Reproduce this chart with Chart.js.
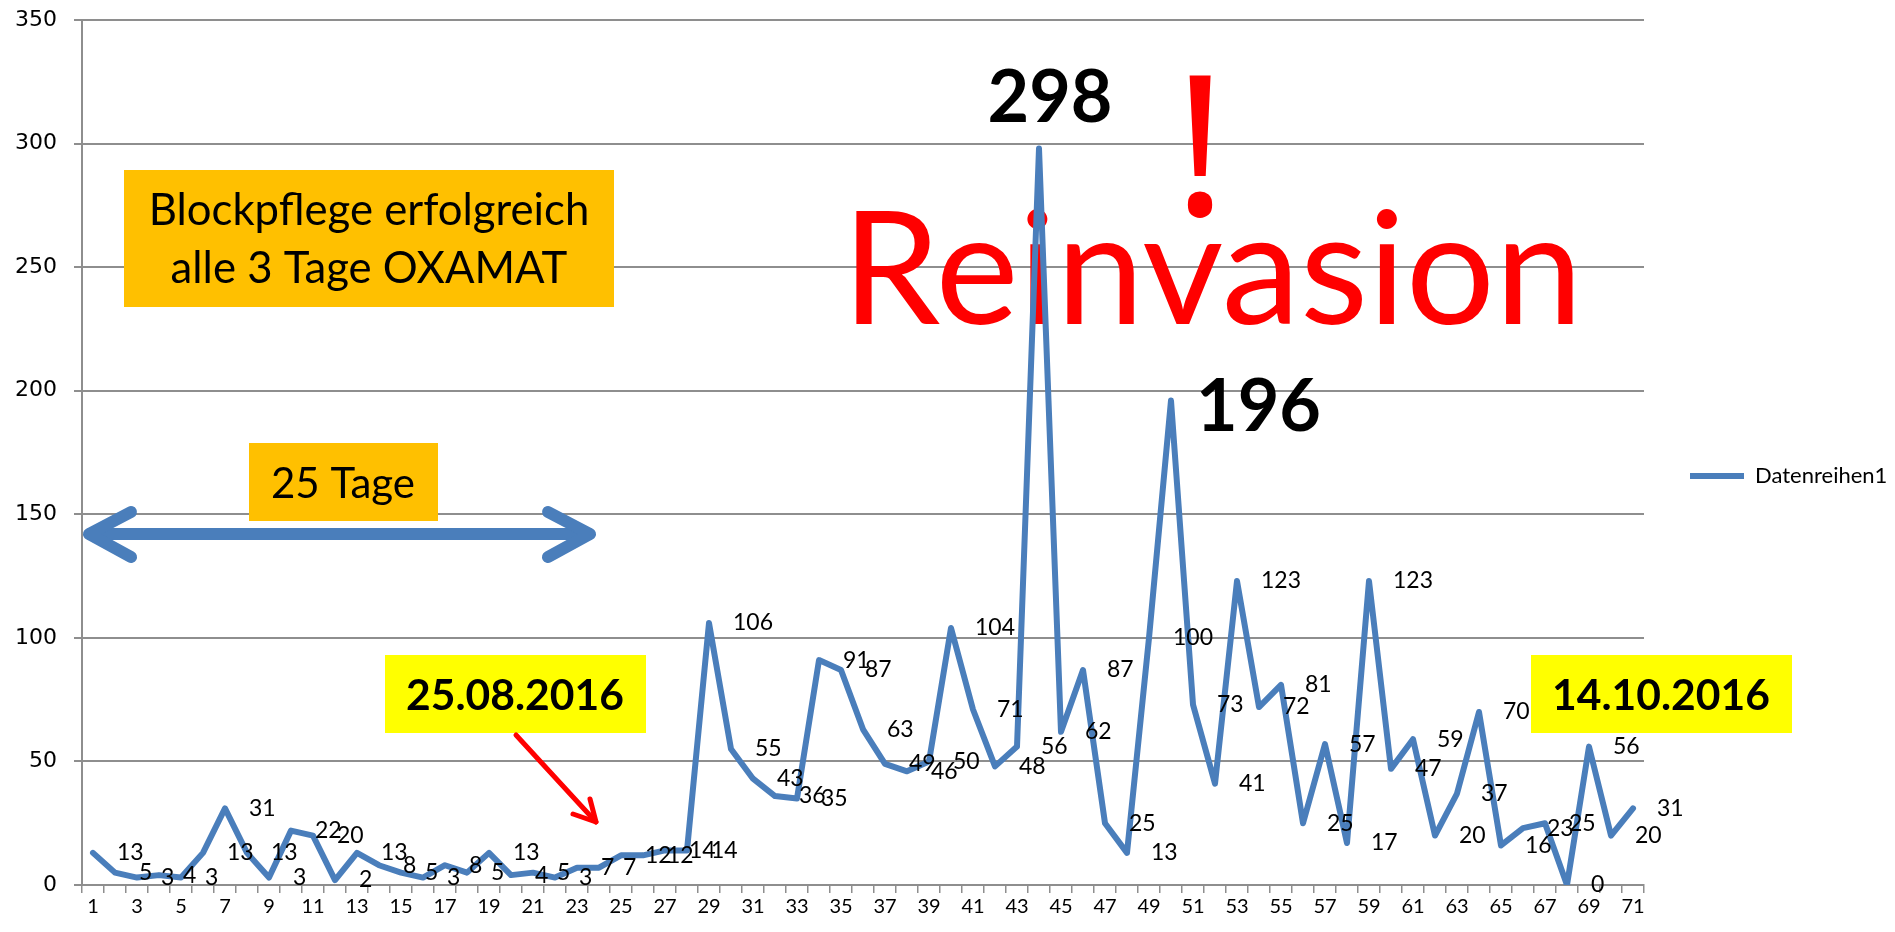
<!DOCTYPE html>
<html lang="de">
<head>
<meta charset="utf-8">
<title>Milbenfall</title>
<script src="https://cdn.jsdelivr.net/npm/chart.js@4.4.1/dist/chart.umd.min.js"></script>
<style>
  html, body { margin: 0; padding: 0; background: #fff; }
  canvas { display: block; }
</style>
</head>
<body>
<canvas id="chart" width="1895" height="932"></canvas>
<script>
// Tage 1..71
const days = Array.from({ length: 71 }, (_, i) => String(i + 1));

// Milbenfall pro Tag
const mites = [
  13, 5, 3, 4, 3, 13, 31, 13, 3, 22,
  20, 2, 13, 8, 5, 3, 8, 5, 13, 4,
  5, 3, 7, 7, 12, 12, 14, 14, 106, 55,
  43, 36, 35, 91, 87, 63, 49, 46, 50, 104,
  71, 48, 56, 298, 62, 87, 25, 13, 100, 196,
  73, 41, 123, 72, 81, 25, 57, 17, 123, 47,
  59, 20, 37, 70, 16, 23, 25, 0, 56, 20, 31
];

const seriesName = 'Datenreihen1';
const yMax = 350;
const yStep = 50;

// Tage mit grosser, fetter Beschriftung
const bigLabels = { 44: 'above', 50: 'right' };

const FONT = 'Lato, "Open Sans", sans-serif';
const BLUE = '#4A7EBB';
const GRID = '#8e8e8e';

// Schriftgroesse so waehlen, dass der Text eine bestimmte Breite hat
function fitFont(ctx, text, width, weight) {
  ctx.font = weight + ' 100px ' + FONT;
  const w = ctx.measureText(text).width;
  return weight + ' ' + (100 * width / w).toFixed(1) + 'px ' + FONT;
}

function textBox(ctx, x, y, w, h, color) {
  ctx.fillStyle = color;
  ctx.fillRect(x, y, w, h);
}

function line(ctx, pts, color, width) {
  ctx.strokeStyle = color;
  ctx.lineWidth = width;
  ctx.lineCap = 'round';
  ctx.lineJoin = 'round';
  ctx.beginPath();
  ctx.moveTo(pts[0][0], pts[0][1]);
  for (let i = 1; i < pts.length; i++) ctx.lineTo(pts[i][0], pts[i][1]);
  ctx.stroke();
}

// Textfelder, Pfeile, "Reinvasion"
const annotations = {
  id: 'annotations',
  beforeDatasetsDraw(chart) {
    const ctx = chart.ctx;
    ctx.save();
    ctx.textBaseline = 'alphabetic';

    // Blockpflege
    textBox(ctx, 124, 170, 490, 137, '#FFC000');
    ctx.fillStyle = '#000';
    ctx.textAlign = 'center';
    ctx.font = fitFont(ctx, 'Blockpflege erfolgreich', 441, 'normal');
    ctx.fillText('Blockpflege erfolgreich', 369, 225);
    ctx.fillText('alle 3 Tage OXAMAT', 369, 283);

    // Doppelpfeil 25 Tage
    line(ctx, [[90, 534], [589, 534]], BLUE, 12);
    line(ctx, [[131, 512], [89, 534], [131, 557]], BLUE, 12);
    line(ctx, [[548, 512], [590, 534], [548, 557]], BLUE, 12);
    textBox(ctx, 249, 443, 189, 78, '#FFC000');
    ctx.fillStyle = '#000';
    ctx.font = fitFont(ctx, '25 Tage', 144, 'normal');
    ctx.fillText('25 Tage', 343, 498);

    // Datum Start
    textBox(ctx, 385, 655, 261, 78, '#FFFF00');
    ctx.fillStyle = '#000';
    const dateFont = fitFont(ctx, '25.08.2016', 218, 'bold');
    ctx.font = dateFont;
    ctx.fillText('25.08.2016', 515, 710);
    line(ctx, [[516, 735], [596, 822]], '#FF0000', 5);
    line(ctx, [[590, 799], [596, 822], [573, 814]], '#FF0000', 5);

    // Datum Ende
    textBox(ctx, 1531, 655, 261, 78, '#FFFF00');
    ctx.fillStyle = '#000';
    ctx.font = dateFont;
    ctx.fillText('14.10.2016', 1661, 710);

    // Reinvasion!
    ctx.fillStyle = '#FF0000';
    ctx.textAlign = 'left';
    ctx.font = fitFont(ctx, 'Reinvasion', 741, 'normal');
    ctx.fillText('Reinvasion', 842, 324);
    ctx.textAlign = 'center';
    ctx.font = 'normal 196px "Noto Sans", sans-serif';
    ctx.fillText('!', 1200, 215);

    ctx.restore();
  }
};

// Datenbeschriftungen rechts neben den Punkten
const dataLabels = {
  id: 'dataLabels',
  afterDatasetsDraw(chart) {
    const ctx = chart.ctx;
    const meta = chart.getDatasetMeta(0);
    const values = chart.data.datasets[0].data;
    const bigFont = fitFont(ctx, '298', 125, 'bold');
    ctx.save();
    ctx.fillStyle = '#000';
    meta.data.forEach((pt, i) => {
      const day = i + 1;
      const text = String(values[i]);
      if (bigLabels[day] === 'above') {
        ctx.font = bigFont;
        ctx.textAlign = 'center';
        ctx.textBaseline = 'alphabetic';
        ctx.fillText(text, pt.x + 11, pt.y - 27);
      } else if (bigLabels[day] === 'right') {
        ctx.font = bigFont;
        ctx.textAlign = 'left';
        ctx.textBaseline = 'alphabetic';
        ctx.fillText(text, pt.x + 25, pt.y + 30);
      } else {
        ctx.font = '23px ' + FONT;
        ctx.textAlign = 'left';
        ctx.textBaseline = 'middle';
        ctx.fillText(text, pt.x + 24, pt.y);
      }
    });
    ctx.restore();
  }
};

const ctx = document.getElementById('chart').getContext('2d');
new Chart(ctx, {
  type: 'line',
  data: {
    labels: days,
    datasets: [{
      label: seriesName,
      data: mites,
      borderColor: BLUE,
      backgroundColor: BLUE,
      borderWidth: 6,
      borderJoinStyle: 'round',
      borderCapStyle: 'round',
      pointRadius: 0,
      tension: 0,
      fill: false
    }]
  },
  options: {
    responsive: false,
    animation: false,
    devicePixelRatio: 1,
    events: [],
    layout: { padding: { top: 20, left: 0, right: 0, bottom: 0 } },
    plugins: {
      tooltip: { enabled: false },
      title: { display: false },
      legend: {
        position: 'right',
        maxWidth: 251,
        labels: {
          usePointStyle: true,
          pointStyle: 'line',
          pointStyleWidth: 54,
          boxHeight: 22,
          padding: 46,
          color: '#000',
          font: { family: FONT, size: 22 }
        }
      }
    },
    scales: {
      x: {
        type: 'category',
        offset: true,
        grid: {
          offset: true,
          drawOnChartArea: false,
          drawTicks: true,
          tickLength: 8,
          color: GRID,
          lineWidth: 1.5
        },
        border: { color: GRID, width: 2 },
        ticks: {
          autoSkip: false,
          maxRotation: 0,
          padding: 2,
          color: '#000',
          font: { family: FONT, size: 20 },
          callback: (v, i) => (i % 2 === 0 ? days[i] : '')
        },
        afterFit(scale) { scale.height = 47; }
      },
      y: {
        min: 0,
        max: yMax,
        grid: { color: GRID, lineWidth: 2, tickLength: 8 },
        border: { color: GRID, width: 2 },
        ticks: {
          stepSize: yStep,
          padding: 17,
          color: '#000',
          font: { family: 'DejaVu Sans', size: 22 }
        },
        afterFit(scale) {
          scale.width = 82;
          scale.paddingTop = 0;
          scale.paddingBottom = 0;
        }
      }
    }
  },
  plugins: [annotations, dataLabels]
});
</script>
</body>
</html>
